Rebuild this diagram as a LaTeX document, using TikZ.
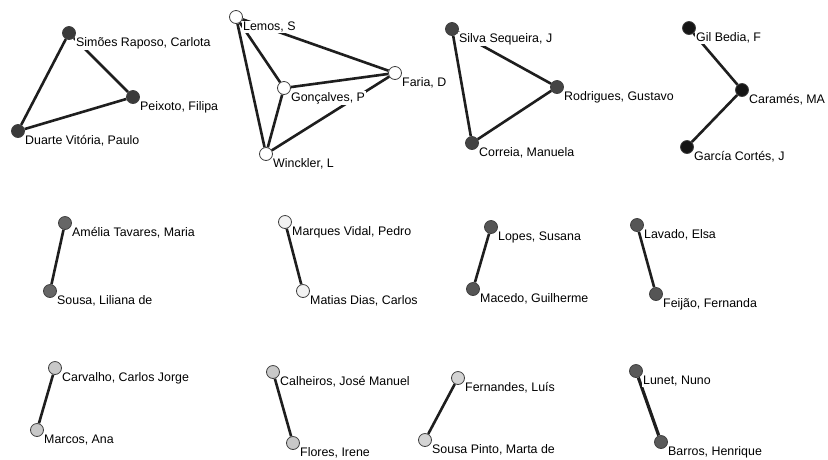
\documentclass[tikz,border=0pt]{standalone}
\usepackage{fontspec}
\setmainfont{Liberation Sans}
\pgfdeclarelayer{bg}
\pgfsetlayers{bg,main}
\definecolor{cA}{HTML}{3A3A3A}
\definecolor{cB}{HTML}{FFFFFF}
\definecolor{cC}{HTML}{444444}
\definecolor{cD}{HTML}{151515}
\definecolor{cE}{HTML}{666666}
\definecolor{cF}{HTML}{F2F2F2}
\definecolor{cG}{HTML}{555555}
\definecolor{cH}{HTML}{C8C8C8}
\definecolor{cI}{HTML}{D4D4D4}
\definecolor{cJ}{HTML}{5A5A5A}
\definecolor{edgec}{HTML}{1E1E1E}
\tikzset{
  person/.style={circle, draw=black!75, line width=0.8pt, minimum size=13pt, inner sep=0pt, fill=#1},
  lbl/.style={anchor=west, fill=white, inner sep=1pt, font=\fontsize{12.4pt}{14pt}\selectfont, text=black},
  tie/.style={draw=edgec, line width=2.6pt}
}
\newcommand{\pn}[5]{%
  \node[person=#4] (#1) at (#2,#3) {};
  \node[lbl] (#1-t) at ([shift={(6,10)}]#1.center) {#5};
}
\begin{document}
\begin{tikzpicture}[x=1pt,y=-1pt]
\begin{pgfonlayer}{bg}
\fill[white] (0,0) rectangle (828,459);
\end{pgfonlayer}
\useasboundingbox (0,0) rectangle (828,459);
% group 1
\pn{sim}{69}{33}{cA}{Simões Raposo, Carlota}
\pn{pei}{133}{97}{cA}{Peixoto, Filipa}
\pn{dua}{18}{131}{cA}{Duarte Vitória, Paulo}
% group 2
\pn{lem}{236}{17}{cB}{Lemos, S}
\pn{far}{395}{73}{cB}{Faria, D}
\pn{gon}{284}{88}{cB}{Gonçalves, P}
\pn{win}{266}{154}{cB}{Winckler, L}
% group 3
\pn{sil}{452}{29}{cC}{Silva Sequeira, J}
\pn{rod}{557}{87}{cC}{Rodrigues, Gustavo}
\pn{cor}{472}{143}{cC}{Correia, Manuela}
% group 4
\pn{gil}{689}{28}{cD}{Gil Bedia, F}
\pn{car}{742}{90}{cD}{Caramés, MA}
\pn{gar}{687}{147}{cD}{García Cortés, J}
% row 2
\pn{ame}{65}{223}{cE}{Amélia Tavares, Maria}
\pn{sou}{50}{291}{cE}{Sousa, Liliana de}
\pn{mar}{285}{222}{cF}{Marques Vidal, Pedro}
\pn{mat}{303}{291}{cF}{Matias Dias, Carlos}
\pn{lop}{491}{227}{cG}{Lopes, Susana}
\pn{mac}{473}{289}{cG}{Macedo, Guilherme}
\pn{lav}{637}{225}{cG}{Lavado, Elsa}
\pn{fei}{656}{294}{cG}{Feijão, Fernanda}
% row 3
\pn{cav}{55}{368}{cH}{Carvalho, Carlos Jorge}
\pn{mcs}{37}{430}{cH}{Marcos, Ana}
\pn{cal}{273}{372}{cH}{Calheiros, José Manuel}
\pn{flo}{293}{443}{cH}{Flores, Irene}
\pn{fer}{458}{378}{cI}{Fernandes, Luís}
\pn{spi}{425}{440}{cI}{Sousa Pinto, Marta de}
\pn{lun}{636}{371}{cJ}{Lunet, Nuno}
\pn{bar}{661}{442}{cJ}{Barros, Henrique}
\begin{pgfonlayer}{bg}
\draw[tie] (sim) -- (pei);
\draw[tie] (sim) -- (dua);
\draw[tie] (dua) -- (pei);
\draw[tie] (lem) -- (win);
\draw[tie] (lem) -- (gon);
\draw[tie] (lem) -- (far);
\draw[tie] (gon) -- (far);
\draw[tie] (gon) -- (win);
\draw[tie] (win) -- (far);
\draw[tie] (sil) -- (rod);
\draw[tie] (sil) -- (cor);
\draw[tie] (cor) -- (rod);
\draw[tie] (gil) -- (car);
\draw[tie] (car) -- (gar);
\draw[tie] (ame) -- (sou);
\draw[tie] (mar) -- (mat);
\draw[tie] (lop) -- (mac);
\draw[tie] (lav) -- (fei);
\draw[tie] (cav) -- (mcs);
\draw[tie] (cal) -- (flo);
\draw[tie] (fer) -- (spi);
\draw[tie, line width=3.2pt] (lun) -- (bar);
\end{pgfonlayer}
\end{tikzpicture}
\end{document}
